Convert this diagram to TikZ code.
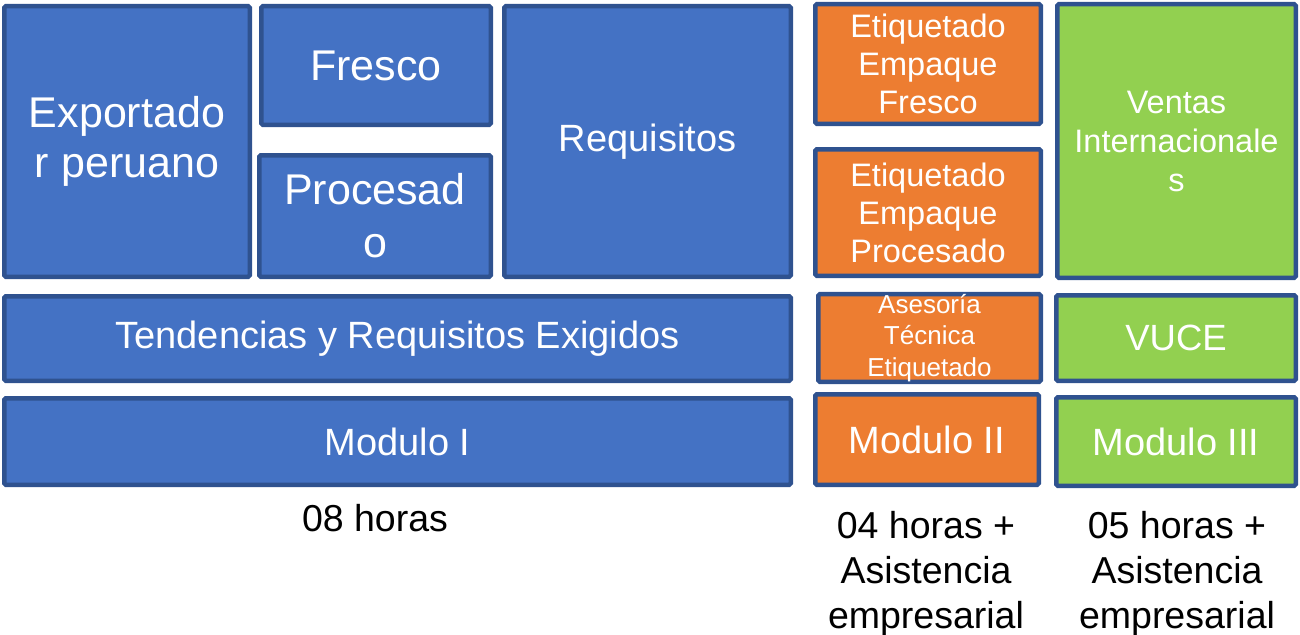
\documentclass[tikz,border=0pt]{standalone}
\usepackage{fontspec}
\setmainfont{Liberation Sans}
\definecolor{bfill}{HTML}{4472C4}
\definecolor{ofill}{HTML}{ED7D31}
\definecolor{gfill}{HTML}{92D050}
\definecolor{edge}{HTML}{2F528F}
\begin{document}
\begin{tikzpicture}[x=1pt,y=-1pt,
  box/.style={draw=edge,line width=4.5pt,rounded corners=1.5pt,text=white,align=center,inner sep=0pt},
  bluebox/.style={box,fill=bfill},
  orangebox/.style={box,fill=ofill},
  greenbox/.style={box,fill=gfill},
  big/.style={font=\fontsize{43}{50}\selectfont},
  mid/.style={font=\fontsize{38}{44}\selectfont},
  small/.style={font=\fontsize{32.5}{38}\selectfont},
  tiny/.style={font=\fontsize{26}{31.5}\selectfont},
  note/.style={align=center,text=black,font=\fontsize{37.5}{45}\selectfont}]
\useasboundingbox (0,0) rectangle (1300,634);
\node[bluebox,big,minimum width=245.5pt,minimum height=270.5pt] (exp) at (127,141.5) {Exportado\\r peruano};
\node[bluebox,big,minimum width=229.5pt,minimum height=118.5pt] (fresco) at (376,65.5) {Fresco};
\node[bluebox,big,minimum width=231.5pt,minimum height=121.5pt,font=\fontsize{43}{53}\selectfont] (proc) at (375,216) {Procesad\\o};
\node[bluebox,mid,minimum width=286.5pt,minimum height=270.5pt] (req) at (647.5,141.5) {Requisitos};
\node[orangebox,small,minimum width=225.5pt,minimum height=119.5pt] (etf) at (928,64) {Etiquetado\\Empaque\\Fresco};
\node[orangebox,small,minimum width=225.5pt,minimum height=126.5pt] (etp) at (928,212.5) {Etiquetado\\Empaque\\Procesado};
\node[greenbox,small,font=\fontsize{32.5}{39}\selectfont,minimum width=238.5pt,minimum height=273.5pt] (ventas) at (1176.5,141) {Ventas\\Internacionale\\s};
\node[bluebox,mid,minimum width=786.5pt,minimum height=84.5pt] (tend) at (397.5,338.5) {Tendencias y Requisitos Exigidos};
\node[orangebox,tiny,minimum width=222.5pt,minimum height=85.5pt] (ases) at (929.5,338) {Asesoría\\Técnica\\Etiquetado};
\node[greenbox,font=\fontsize{36.5}{44}\selectfont,minimum width=239.5pt,minimum height=85.5pt] (vuce) at (1176,338) {VUCE};
\node[bluebox,mid,minimum width=786.5pt,minimum height=86.5pt] (m1) at (397.5,441.5) {Modulo I};
\node[orangebox,mid,minimum width=223.5pt,minimum height=90.5pt] (m2) at (927,439.5) {Modulo II};
\node[greenbox,mid,minimum width=239.5pt,minimum height=88.5pt] (m3) at (1176,441.5) {Modulo III};
\node[note] (h1) at (375,518) {08 horas};
\node[note] (h2) at (926,574) {04 horas +\\Asistencia\\empresarial};
\node[note] (h3) at (1177,574) {05 horas +\\Asistencia\\empresarial};
\end{tikzpicture}
\end{document}
